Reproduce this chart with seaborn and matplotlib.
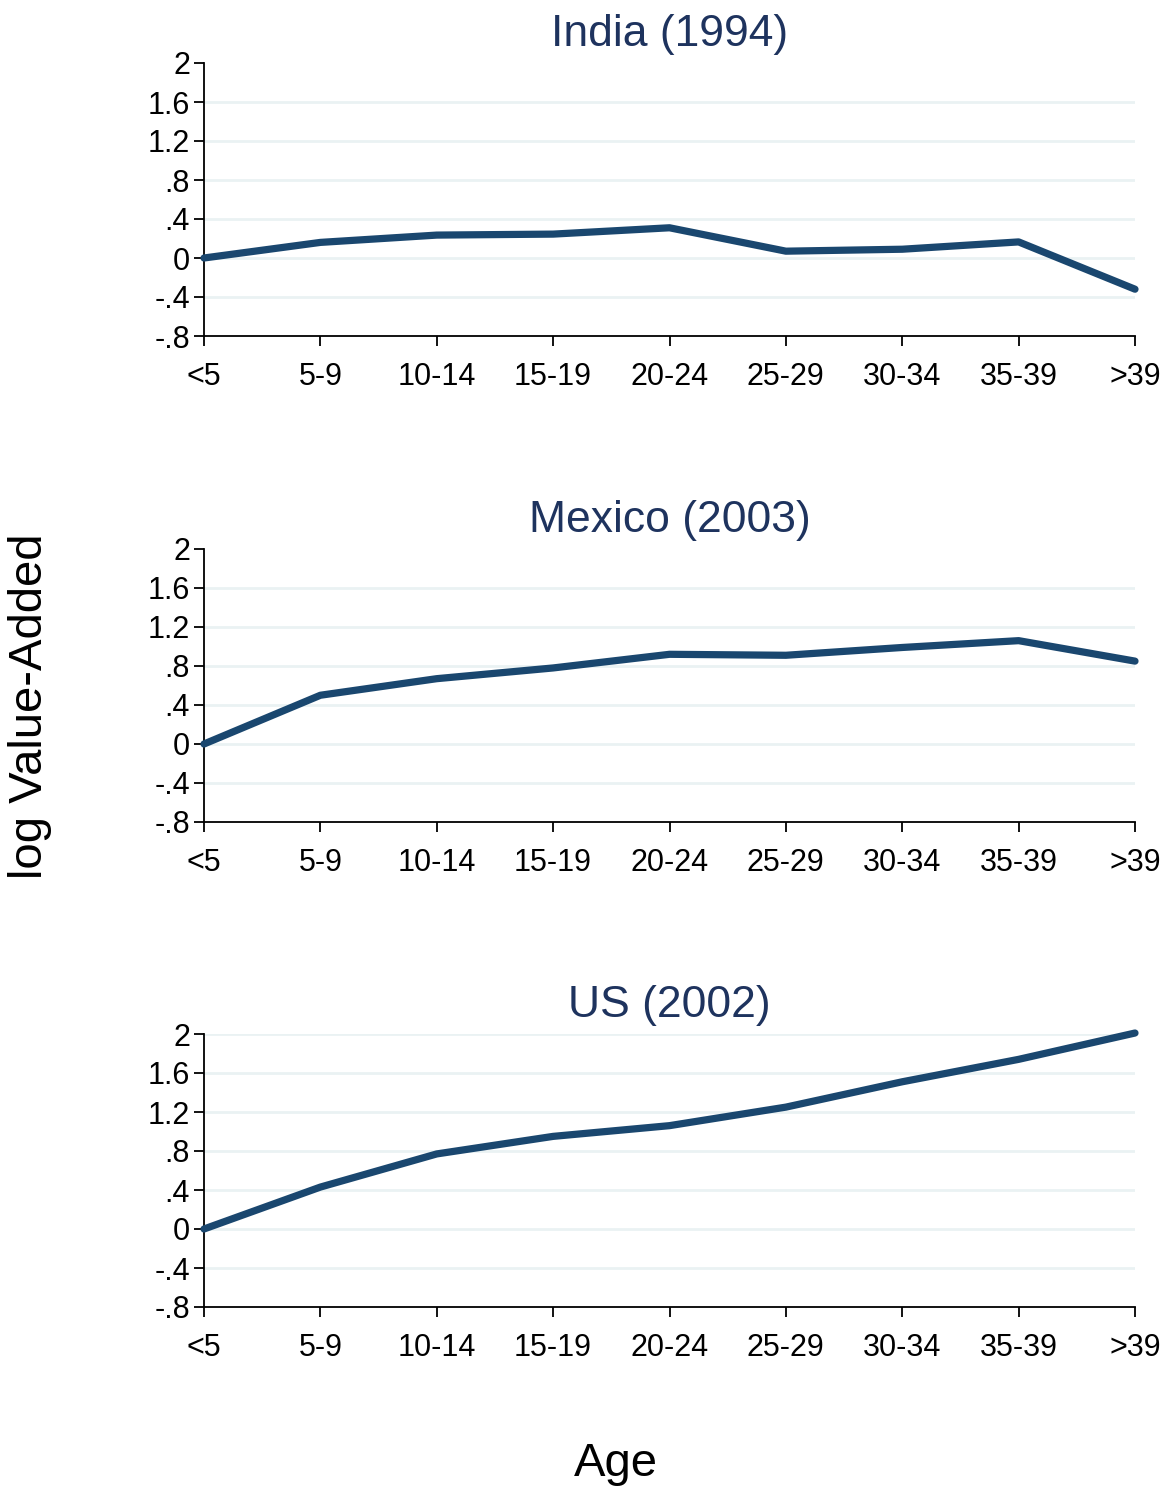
import numpy as np
import pandas as pd
import seaborn as sns
import matplotlib
matplotlib.use("Agg")
import matplotlib.pyplot as plt

# Values
age_groups = ["<5", "5-9", "10-14", "15-19", "20-24", "25-29", "30-34", "35-39", ">39"]
india_1994 = [0.0, 0.16, 0.235, 0.245, 0.31, 0.07, 0.09, 0.165, -0.32]
mexico_2003 = [0.0, 0.50, 0.67, 0.78, 0.92, 0.91, 0.99, 1.06, 0.85]
us_2002 = [0.0, 0.43, 0.77, 0.95, 1.06, 1.25, 1.51, 1.74, 2.01]

panel_titles = ["India (1994)", "Mexico (2003)", "US (2002)"]
ytick_vals = [-0.8, -0.4, 0, 0.4, 0.8, 1.2, 1.6, 2]
ytick_labels = ["-.8", "-.4", "0", ".4", ".8", "1.2", "1.6", "2"]

sns.set_style("white")
plt.rcParams["font.family"] = ["Liberation Sans", "DejaVu Sans"]
plt.rcParams["text.color"] = "black"
plt.rcParams["xtick.color"] = "black"
plt.rcParams["ytick.color"] = "black"

line_color = "#1a476f"
title_color = "#1e335e"
grid_color = "#eaf2f3"

df = pd.DataFrame({
    "age": age_groups * 3,
    "pos": list(range(len(age_groups))) * 3,
    "value": india_1994 + mexico_2003 + us_2002,
    "panel": np.repeat(panel_titles, len(age_groups)),
})

fig = plt.figure(figsize=(11.66, 14.86), dpi=100)

left, width, height = 204 / 1166, 931 / 1166, 273 / 1486
bottoms = [1 - 336 / 1486, 1 - 822 / 1486, 1 - 1307 / 1486]

for title, bottom in zip(panel_titles, bottoms):
    ax = fig.add_axes([left, bottom, width, height])
    sub = df[df["panel"] == title]

    # light horizontal grid, skipped at the axis ends unless data pass them
    grid_vals = [v for v in ytick_vals if -0.8 < v < 2]
    if sub["value"].max() > 2:
        grid_vals.append(2)
    for g in grid_vals:
        ax.axhline(g, color=grid_color, lw=2, zorder=0)

    sns.lineplot(data=sub, x="pos", y="value", ax=ax, color=line_color,
                 lw=5.2, solid_capstyle="round", solid_joinstyle="round",
                 clip_on=False, zorder=3)

    ax.set_xlim(0, len(age_groups) - 1)
    ax.set_ylim(-0.8, 2)
    ax.set_xticks(range(len(age_groups)))
    ax.set_xticklabels(age_groups)
    ax.set_yticks(ytick_vals)
    ax.set_yticklabels(ytick_labels)
    ax.tick_params(axis="both", direction="out", length=7, width=1.3,
                   color="black", labelcolor="black", labelsize=22, pad=3,
                   bottom=True, left=True)
    ax.tick_params(axis="x", pad=12)

    for side in ["top", "right"]:
        ax.spines[side].set_visible(False)
    for side in ["left", "bottom"]:
        ax.spines[side].set_color("black")
        ax.spines[side].set_linewidth(1.3)

    ax.set_xlabel("")
    ax.set_ylabel("")
    ax.set_title(title, fontsize=32, color=title_color, pad=12)

fig.text(0.026, 0.525, "log Value-Added", rotation=90, fontsize=34,
         ha="center", va="center")
fig.text(0.528, 0.015, "Age", fontsize=34, ha="center", va="center")

fig.savefig("out.png", dpi=100, facecolor="white")
